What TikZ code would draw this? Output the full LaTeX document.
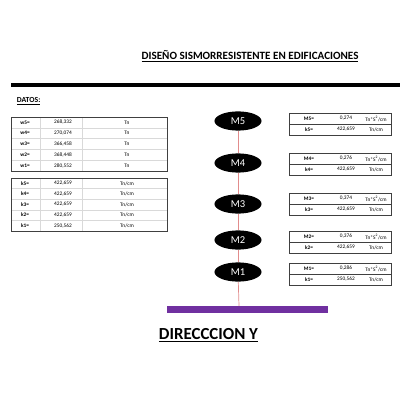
\documentclass[tikz,border=0pt]{standalone}
\usepackage{fontspec}
\setmainfont{Carlito}
\usetikzlibrary{shapes.geometric}

\definecolor{barpurple}{RGB}{112,48,160}
\definecolor{stemred}{RGB}{226,140,140}

\tikzset{
  mass/.style={ellipse,fill=black,minimum width=1.175cm,minimum height=0.48cm,
    inner sep=0pt,text=white,font=\fontsize{7.5}{8}\selectfont},
  cell/.style={inner sep=0pt,font=\fontsize{3.8}{4}\selectfont},
  celllab/.style={cell,font=\fontsize{3.8}{4}\selectfont\bfseries},
  gridline/.style={gray!30,line width=0.3pt},
  frameline/.style={black!75,line width=0.6pt}
}

\begin{document}
\begin{tikzpicture}[x=0.025cm,y=-0.025cm]
  \useasboundingbox (0,0) rectangle (400,400);

  % Title and rule
  \node[font=\fontsize{7.9}{9}\selectfont\bfseries] (titulo) at (250,56)
    {\underline{DISEÑO SISMORRESISTENTE EN EDIFICACIONES}};
  \draw[line width=2.2pt] (11,85) -- (400,85);
  \node[anchor=west,font=\fontsize{5.5}{6}\selectfont\bfseries] (datos) at (12,101)
    {\underline{DATOS:}};

  % Weights table
  \draw[gridline] (40,117) -- (40,171) (82,117) -- (82,171);
  \foreach \r in {1,...,4}
    \draw[gridline] (11,{117+\r*10.8}) -- (167,{117+\r*10.8});
  \foreach \n/\v [count=\r] in {5/{268,332},4/{270,074},3/{366,458},2/{368,448},1/{280,552}}{
    \node[celllab] (w\n) at (25,{117+(\r-0.5)*10.8}) {w\n=};
    \node[cell] (wv\n) at (63,{117+(\r-0.5)*10.8}) {\v};
    \node[cell] (wu\n) at (127,{117+(\r-0.5)*10.8}) {Tn};
  }
  \draw[frameline] (11,117) rectangle (167,171);

  % Stiffness table
  \draw[gridline] (40,178) -- (40,231) (82,178) -- (82,231);
  \foreach \r in {1,...,4}
    \draw[gridline] (11,{178+\r*10.6}) -- (167,{178+\r*10.6});
  \foreach \n/\v [count=\r] in {5/{422,659},4/{422,659},3/{422,659},2/{422,659},1/{250,562}}{
    \node[celllab] (k\n) at (25,{178+(\r-0.5)*10.6}) {k\n=};
    \node[cell] (kv\n) at (63,{178+(\r-0.5)*10.6}) {\v};
    \node[cell] (ku\n) at (127,{178+(\r-0.5)*10.6}) {Tn/cm};
  }
  \draw[frameline] (11,178) rectangle (167,231);

  % Lumped masses
  \node[mass] (m5) at (238,121) {M5};
  \node[mass] (m4) at (238,163) {M4};
  \node[mass] (m3) at (238,204) {M3};
  \node[mass] (m2) at (238,240) {M2};
  \node[mass] (m1) at (238,272) {M1};
  \coordinate (base) at (239,306);
  \draw[stemred,line width=0.5pt] (m5) -- (m4);
  \draw[stemred,line width=0.5pt] (m4) -- (m3);
  \draw[stemred,line width=0.5pt] (m3) -- (m2);
  \draw[stemred,line width=0.5pt] (m2) -- (m1);
  \draw[stemred,line width=0.5pt] (m1) -- (base);

  % Foundation
  \fill[barpurple] (167,306) rectangle (328,313);

  % Per-level tables
  \foreach \n/\t/\mv/\kv in {5/113/{0,274}/{422,659},4/153/{0,276}/{422,659},
      3/193/{0,374}/{422,659},2/231/{0,376}/{422,659},1/263/{0,286}/{250,562}}{
    \draw[frameline] (289,\t) rectangle (391,\t+22);
    \draw[frameline] (289,\t+11) -- (391,\t+11);
    \node[celllab] (lm\n) at (309,\t+5.5) {M\n=};
    \node[cell] (vm\n) at (346,\t+5.5) {\mv};
    \node[cell] (um\n) at (376,\t+5.5) {Tn*S\textsuperscript{2}/cm};
    \node[celllab] (lk\n) at (309,\t+16.5) {k\n=};
    \node[cell] (vk\n) at (346,\t+16.5) {\kv};
    \node[cell] (uk\n) at (376,\t+16.5) {Tn/cm};
  }

  % Direction label
  \node[anchor=west,font=\fontsize{12}{14}\selectfont\bfseries] (direccion) at (154,335)
    {\underline{DIRECCCION Y}};
\end{tikzpicture}
\end{document}
